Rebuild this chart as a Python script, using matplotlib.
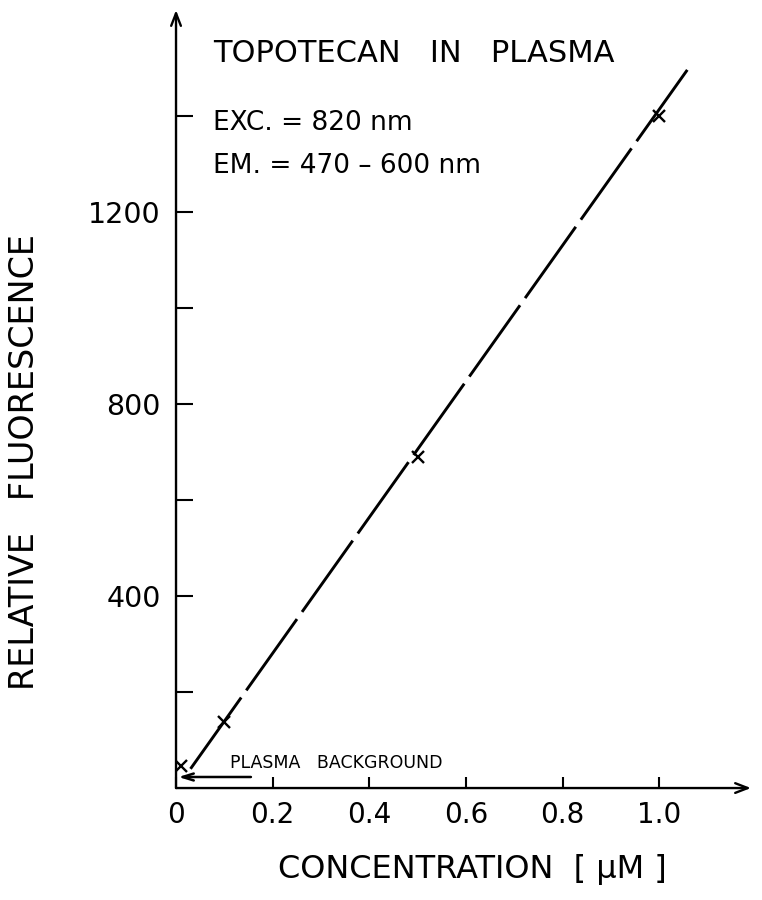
#!/usr/bin/env python3
"""
Topotecan in plasma: relative fluorescence vs concentration.
"""

import matplotlib
matplotlib.use("Agg")
import matplotlib.pyplot as plt

# ========== data ==========
conc_um = [0.01, 0.1, 0.5, 1.0]          # measured points (uM)
fluorescence = [45, 137, 690, 1400]      # relative fluorescence

fit_x = [0.03, 1.065]                    # drawn calibration line
fit_y = [40, 1505]

x_ticks = [0.0, 0.2, 0.4, 0.6, 0.8, 1.0]
x_tick_labels = ["0", "0.2", "0.4", "0.6", "0.8", "1.0"]
y_ticks = [200, 400, 600, 800, 1000, 1200, 1400]
y_tick_labels = ["", "400", "", "800", "", "1200", ""]

background_level = 23                    # arrow height for plasma background

plt.rcParams["font.family"] = ["DejaVu Sans"]

fig = plt.figure(figsize=(7.62, 9.0), dpi=100)
ax = fig.add_axes([0.231, 0.1244, 0.7545, 0.8644])

ax.set_xlim(0, 1.19)
ax.set_ylim(0, 1620)

for sp in ax.spines.values():
    sp.set_visible(False)

# axes drawn as arrows
arrow_kw = dict(arrowstyle="->,head_length=0.9,head_width=0.35", lw=1.7, color="black",
                shrinkA=0, shrinkB=0)
ax.annotate("", xy=(1.0, 0), xytext=(0, 0), xycoords="axes fraction",
            textcoords="axes fraction", arrowprops=arrow_kw, annotation_clip=False)
ax.annotate("", xy=(0, 1.0), xytext=(0, 0), xycoords="axes fraction",
            textcoords="axes fraction", arrowprops=arrow_kw, annotation_clip=False)

ax.set_xticks(x_ticks)
ax.set_xticklabels(x_tick_labels)
ax.set_yticks(y_ticks)
ax.set_yticklabels(y_tick_labels)
ax.tick_params(axis="x", direction="in", length=8, width=1.5, pad=9, labelsize=20)
ax.tick_params(axis="y", direction="in", length=12, width=1.5, pad=11, labelsize=20.5)

# calibration line and points
ax.plot(fit_x, fit_y, color="black", lw=2.1, linestyle=(0, (30, 3)), solid_capstyle="butt")
ax.plot(conc_um, fluorescence, linestyle="none", marker="x", markersize=8,
        markeredgewidth=1.7, color="black")

# plasma background arrow
ax.annotate("", xy=(0.005, background_level), xytext=(0.155, background_level),
            arrowprops=dict(arrowstyle="->,head_length=0.8,head_width=0.25", lw=1.8,
                            color="black", shrinkA=0, shrinkB=0))
ax.text(0.112, 52, "PLASMA   BACKGROUND", fontsize=12.5, ha="left", va="center")

# labels
ax.text(0.077, 1530, "TOPOTECAN   IN   PLASMA", fontsize=22, ha="left", va="center")
ax.text(0.077, 1385, "EXC. = 820 nm", fontsize=19, ha="left", va="center")
ax.text(0.077, 1295, "EM. = 470 – 600 nm", fontsize=19, ha="left", va="center")

ax.text(0.515, -0.105, "CONCENTRATION  [ \u03bcM ]", fontsize=23, ha="center", va="center",
        transform=ax.transAxes)
ax.text(-0.263, 0.419, "RELATIVE   FLUORESCENCE", fontsize=24, ha="center", va="center",
        rotation=90, transform=ax.transAxes)

fig.savefig("out.png", dpi=100, facecolor="white")
